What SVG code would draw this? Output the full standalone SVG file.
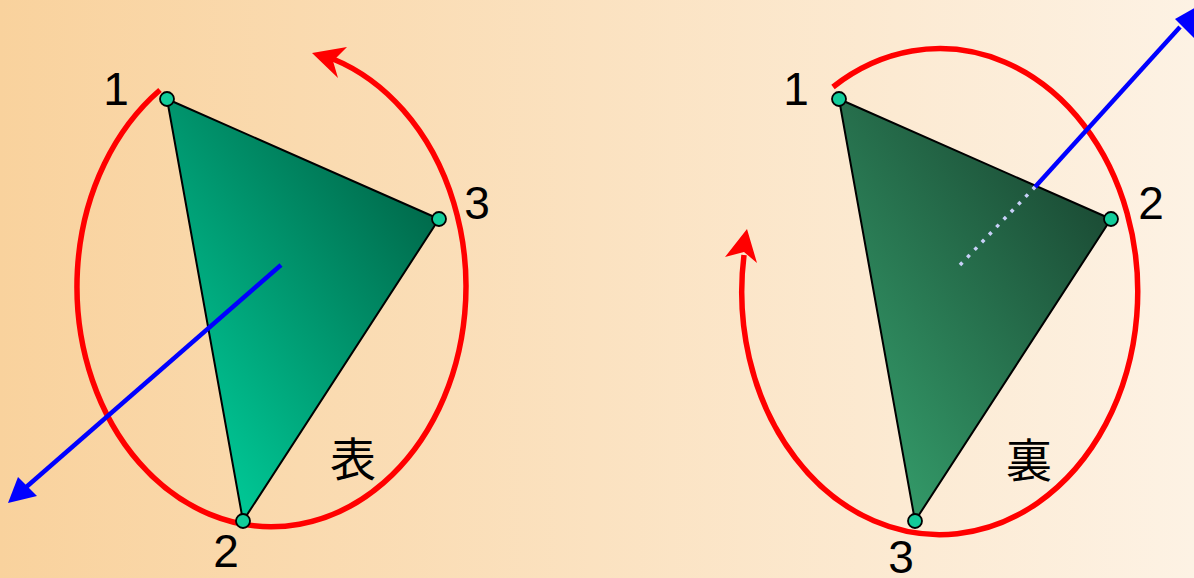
<svg xmlns="http://www.w3.org/2000/svg" width="1194" height="578" viewBox="0 0 1194 578">
<defs>
<linearGradient id="bg" x1="0" y1="0" x2="1" y2="0">
<stop offset="0" stop-color="#F9D29D"/>
<stop offset="1" stop-color="#FDF2E4"/>
</linearGradient>
<linearGradient id="gL" gradientUnits="userSpaceOnUse" x1="243" y1="521" x2="515" y2="325">
<stop offset="0" stop-color="#00C896"/>
<stop offset="1" stop-color="#006A4B"/>
</linearGradient>
<linearGradient id="gR" gradientUnits="userSpaceOnUse" x1="915" y1="521" x2="1187" y2="325">
<stop offset="0" stop-color="#339968"/>
<stop offset="1" stop-color="#1B4C35"/>
</linearGradient>
</defs>
<style>
.tri{stroke:#000;stroke-width:2;stroke-linejoin:round}
.dot{fill:#12CC9A;stroke:#000;stroke-width:1.8}
.red{fill:none;stroke:#FF0000;stroke-width:5.5}
.blue{fill:none;stroke:#0000FF;stroke-width:4.5}
.num{font-family:"Liberation Sans",Arial,sans-serif;font-size:46px;fill:#000;text-anchor:middle}
.kanji{font-family:"Noto Sans CJK JP","Noto Sans CJK SC",sans-serif;font-size:46px;fill:#000;text-anchor:middle}
</style>
<rect width="1194" height="578" fill="url(#bg)"/>

<g id="front">
<polygon class="tri" points="167,99 439,219 243,521" fill="url(#gL)"/>
<text class="kanji" x="353" y="476">表</text>
</g>

<g id="back">
<polygon class="tri" points="839,99 1111,219 915,521" fill="url(#gR)"/>
<text class="kanji" x="1029" y="477">裏</text>
</g>

<g id="connectors">
<path class="red" d="M160,90 A194.5,240 0 1 0 333,59"/>
<polygon fill="#FF0000" points="312,53 347,47 333,61 338,78"/>
<path class="red" d="M833,87 A198,243 0 1 1 744,255"/>
<polygon fill="#FF0000" points="747,229 757,263 744,252 725,257"/>
<line class="blue" x1="281" y1="265" x2="24" y2="489"/>
<polygon fill="#0000FF" points="8,503 18,477 37,496"/>
<line class="blue" x1="1035" y1="187" x2="1180" y2="27"/>
<polygon fill="#0000FF" points="1200,5 1175,19 1194,38"/>
<line x1="960" y1="265" x2="1035" y2="187" stroke="#C8D0F8" stroke-width="3.5" stroke-dasharray="3.5 7"/>
</g>

<g id="v1L"><circle class="dot" cx="167" cy="99" r="7"/><text class="num" x="116" y="105">1</text></g>
<g id="v3L"><circle class="dot" cx="439" cy="219" r="7"/><text class="num" x="477" y="219">3</text></g>
<g id="v2L"><circle class="dot" cx="243" cy="521" r="7"/><text class="num" x="226" y="567">2</text></g>
<g id="v1R"><circle class="dot" cx="839" cy="99" r="7"/><text class="num" x="796" y="105">1</text></g>
<g id="v2R"><circle class="dot" cx="1111" cy="219" r="7"/><text class="num" x="1151" y="219">2</text></g>
<g id="v3R"><circle class="dot" cx="915" cy="521" r="7"/><text class="num" x="901" y="573">3</text></g>
</svg>
